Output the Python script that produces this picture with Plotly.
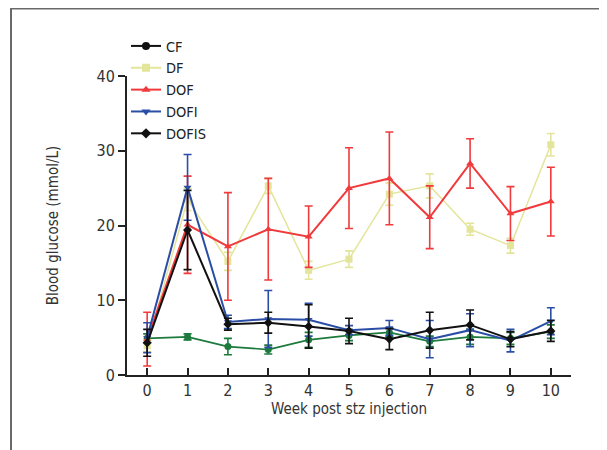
import plotly.graph_objects as go

weeks = [0, 1, 2, 3, 4, 5, 6, 7, 8, 9, 10]
x_ticks = [0, 1, 2, 3, 4, 5, 6, 7, 8, 9, 10]
y_ticks = [0, 10, 20, 30, 40]

cf = [4.9, 5.1, 3.8, 3.4, 4.7, 5.3, 5.7, 4.5, 5.1, 4.9, 5.8]
cf_err = [0.6, 0.4, 1.1, 0.6, 1.0, 0.7, 0.6, 0.7, 1.0, 0.8, 0.9]
df = [3.9, 23.5, 15.2, 25.3, 14.0, 15.5, 24.2, 25.3, 19.5, 17.3, 30.8]
df_err = [0.8, 1.5, 1.2, 1.0, 1.2, 1.1, 1.5, 1.6, 0.8, 1.0, 1.5]
dof = [4.8, 20.1, 17.2, 19.5, 18.5, 25.0, 26.3, 21.1, 28.3, 21.6, 23.2]
dof_err = [3.6, 6.5, 7.2, 6.8, 4.1, 5.4, 6.2, 4.2, 3.3, 3.6, 4.6]
dofi = [5.0, 25.1, 7.1, 7.5, 7.4, 6.0, 6.3, 4.8, 6.0, 4.6, 7.2]
dofi_err = [2.0, 4.4, 0.9, 3.8, 2.2, 0.6, 1.0, 2.5, 2.2, 1.5, 1.8]
dofis = [4.3, 19.4, 6.8, 7.0, 6.5, 5.9, 4.8, 6.0, 6.7, 4.8, 5.9]
dofis_err = [1.8, 5.3, 0.8, 1.4, 2.9, 1.7, 1.4, 2.4, 2.0, 1.0, 1.4]

names = ["CF", "DF", "DOF", "DOFI", "DOFIS"]
FONT = "DejaVu Sans Condensed, Liberation Sans Narrow, Arial Narrow, sans-serif"

series = [
    ("CF", cf, cf_err, "#1c7a3c", "circle", 1.6, 7),
    ("DF", df, df_err, "#e3e59a", "square", 1.5, 7),
    ("DOF", dof, dof_err, "#f03a3c", "triangle-up", 2.0, 7),
    ("DOFI", dofi, dofi_err, "#2a4ea6", "triangle-down", 2.0, 7),
    ("DOFIS", dofis, dofis_err, "#111111", "diamond", 2.0, 7),
]
legend_style = {
    "CF": ("#111111", "circle"),
    "DF": ("#e3e59a", "square"),
    "DOF": ("#f03a3c", "triangle-up"),
    "DOFI": ("#2a4ea6", "triangle-down"),
    "DOFIS": ("#111111", "diamond"),
}

fig = go.Figure()
for name, vals, err, color, sym, lw, ms in series:
    fig.add_trace(go.Scatter(
        x=weeks, y=vals, mode="lines+markers", name=name, showlegend=False,
        line=dict(color=color, width=lw),
        marker=dict(color=color, symbol=sym, size=ms),
        error_y=dict(type="data", array=err, visible=True, color=color,
                     thickness=1.6, width=4),
    ))
for name in names:
    c, s = legend_style[name]
    fig.add_trace(go.Scatter(
        x=[None], y=[None], mode="lines+markers", name=name,
        line=dict(color=c, width=2), marker=dict(color=c, symbol=s, size=8),
    ))

# page body has an 8px margin: figure coords = screen coords - 8
OFF = 8
W, H = 607, 450
L, R, T, B = 127 - OFF, W - (571 - OFF), 76 - OFF, H - (375 - OFF)
pw = W - L - R
ph = H - T - B
def px(sx):
    return (sx - OFF - L) / pw
def py(sy):
    return (H - B - (sy - OFF)) / ph

fig.add_shape(type="line", xref="paper", yref="paper",
              x0=px(11), x1=px(11), y0=py(8.5), y1=py(470),
              line=dict(color="#6a6a6a", width=2))
fig.add_shape(type="line", xref="paper", yref="paper",
              x0=px(10), x1=px(640), y0=py(8.5), y1=py(8.5),
              line=dict(color="#6a6a6a", width=2))
# short extension of the x axis line to the left of the y axis (as in reference)
fig.add_shape(type="line", xref="paper", yref="paper",
              x0=px(119), x1=px(127), y0=0, y1=0,
              line=dict(color="#222222", width=2))

fig.update_layout(
    width=W, height=H,
    margin=dict(l=L, r=R, t=T, b=B, autoexpand=False),
    paper_bgcolor="white", plot_bgcolor="white",
    font=dict(family=FONT, size=16, color="#333333"),
    showlegend=True,
    legend=dict(x=px(126), y=py(30), xanchor="left", yanchor="top",
                bgcolor="rgba(0,0,0,0)", font=dict(size=14.5, color="#222222"),
                tracegroupgap=0, itemwidth=30),
    xaxis=dict(range=[-0.5, 10.5], tickvals=x_ticks, ticks="inside", ticklen=7,
               tickwidth=2, tickcolor="#222", showline=True, linecolor="#222",
               linewidth=2, showgrid=False, zeroline=False, automargin=False,
               title=dict(text="Week post stz injection", standoff=3,
                          font=dict(size=15, color="#333333")),
               tickfont=dict(size=16, color="#333333")),
    yaxis=dict(range=[0, 40], tickvals=y_ticks, ticks="outside", ticklen=7,
               tickwidth=2, tickcolor="#222", showline=True, linecolor="#222",
               linewidth=2, showgrid=False, zeroline=False, automargin=False,
               title=dict(text="Blood glucose (mmol/L)", standoff=34,
                          font=dict(size=15, color="#333333")),
               tickfont=dict(size=16, color="#333333")),
)

fig.write_html("out.html")
